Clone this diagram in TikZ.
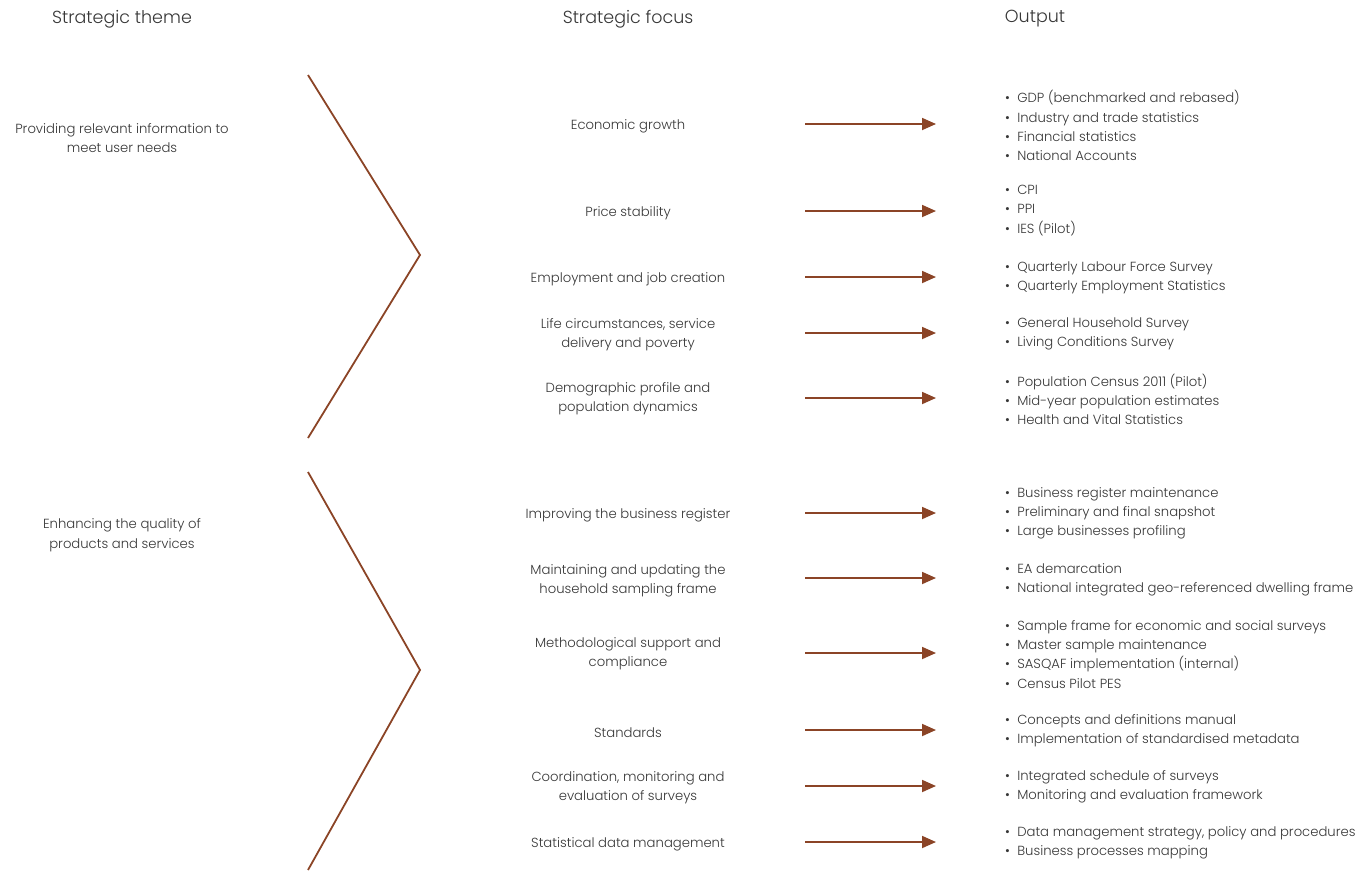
\documentclass[tikz,border=0pt]{standalone}
\usepackage{fontspec}
\setmainfont{Poppins}[UprightFont=* Light]
\usetikzlibrary{arrows.meta}
\definecolor{rust}{RGB}{139,68,38}
\definecolor{ink}{RGB}{55,55,55}
\tikzset{
  head/.style={font=\fontsize{17.5}{21}\selectfont, text=ink, inner sep=0},
  body/.style={font=\fontsize{13.2}{19.4}\selectfont, text=ink, inner sep=0, align=center},
  outlist/.style={font=\fontsize{13.2}{19.1}\selectfont, text=ink, inner sep=0, align=left, anchor=west},
  chev/.style={draw=rust, line width=1.8pt, line join=miter},
  flow/.style={draw=rust, line width=1.8pt, -{Triangle[length=14pt,width=12pt]}}
}
\newcommand{\bl}{\textbullet\hspace{0.55em}}
\begin{document}
\begin{tikzpicture}[x=1pt,y=-1pt]
\useasboundingbox (0,0) rectangle (1359,870);

% column headings
\node[head] (h1) at (122,19) {Strategic theme};
\node[head] (h2) at (628,19) {Strategic focus};
\node[head] (h3) at (1035,19) {Output};

% strategic themes
\node[body] (t1) at (122,138) {Providing relevant information to\\meet user needs};
\node[body] (t2) at (122,535) {Enhancing the quality of\\products and services};

% chevrons grouping the focus areas
\coordinate (c1a) at (308,75);
\coordinate (c1b) at (420,255);
\coordinate (c1c) at (308,438);
\coordinate (c2a) at (308,472);
\coordinate (c2b) at (420,670);
\coordinate (c2c) at (308,870);
\draw[chev] (c1a) -- (c1b) -- (c1c);
\draw[chev] (c2a) -- (c2b) -- (c2c);

% strategic focus areas
\node[body] (f1) at (628,126) {Economic growth};
\node[body] (f2) at (628,213) {Price stability};
\node[body] (f3) at (628,279) {Employment and job creation};
\node[body] (f4) at (628,335) {Life circumstances, service\\delivery and poverty};
\node[body] (f5) at (628,399) {Demographic profile and\\population dynamics};
\node[body] (f6) at (628,515) {Improving the business register};
\node[body] (f7) at (628,580.5) {Maintaining and updating the\\household sampling frame};
\node[body] (f8) at (628,654) {Methodological support and\\compliance};
\node[body] (f9) at (628,733) {Standards};
\node[body] (f10) at (628,787.5) {Coordination, monitoring and\\evaluation of surveys};
\node[body] (f11) at (628,844) {Statistical data management};

% outputs
\node[outlist] (o1) at (1005,125.5) {\bl GDP (benchmarked and rebased)\\\bl Industry and trade statistics\\\bl Financial statistics\\\bl National Accounts};
\node[outlist] (o2) at (1005,210.5) {\bl CPI\\\bl PPI\\\bl IES (Pilot)};
\node[outlist] (o3) at (1005,277.5) {\bl Quarterly Labour Force Survey\\\bl Quarterly Employment Statistics};
\node[outlist] (o4) at (1005,334) {\bl General Household Survey\\\bl Living Conditions Survey};
\node[outlist] (o5) at (1005,399.5) {\bl Population Census 2011 (Pilot)\\\bl Mid-year population estimates\\\bl Health and Vital Statistics};
\node[outlist] (o6) at (1005,513) {\bl Business register maintenance\\\bl Preliminary and final snapshot\\\bl Large businesses profiling};
\node[outlist] (o7) at (1005,579.5) {\bl EA demarcation\\\bl National integrated geo-referenced dwelling frame};
\node[outlist] (o8) at (1005,654.5) {\bl Sample frame for economic and social surveys\\\bl Master sample maintenance\\\bl SASQAF implementation (internal)\\\bl Census Pilot PES};
\node[outlist] (o9) at (1005,730.5) {\bl Concepts and definitions manual\\\bl Implementation of standardised metadata};
\node[outlist] (o10) at (1005,786.5) {\bl Integrated schedule of surveys\\\bl Monitoring and evaluation framework};
\node[outlist] (o11) at (1005,843) {\bl Data management strategy, policy and procedures\\\bl Business processes mapping};

% arrows from each focus area to its outputs
\foreach \i/\y in {1/124,2/211,3/277,4/333,5/398,6/513,7/578,8/653,9/730,10/786,11/842}{
  \coordinate (s\i) at (805,\y);
  \coordinate (e\i) at (936,\y);
  \draw[flow] (s\i) -- (e\i);
}
\end{tikzpicture}
\end{document}
